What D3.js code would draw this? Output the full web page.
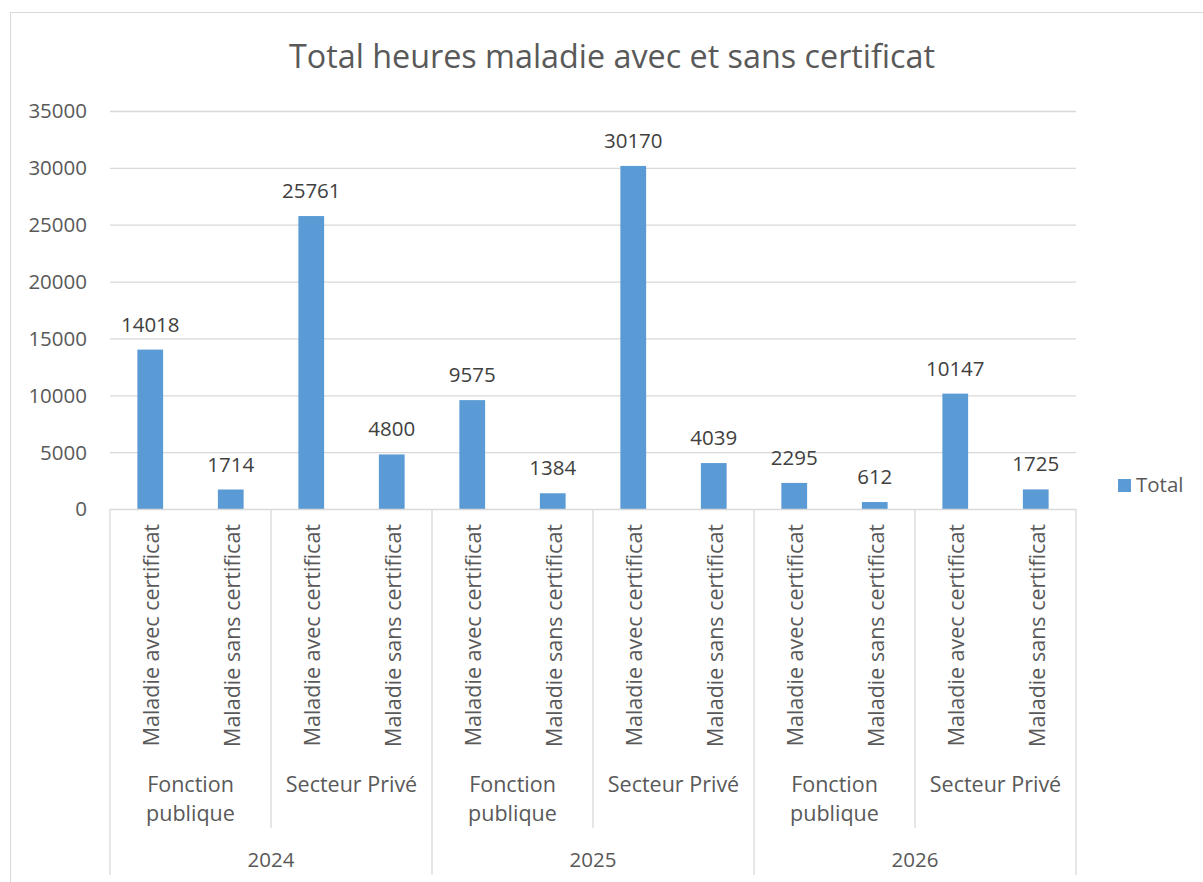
<!DOCTYPE html>
<html>
<head>
<meta charset="utf-8">
<script src="https://cdn.jsdelivr.net/npm/d3@7"></script>
<style>
  body { margin: 0; background: #fff; }
  svg text { font-family: "Open Sans", Lato, sans-serif; }
</style>
</head>
<body>
<div id="chart"></div>
<script>
const years = ["2024", "2025", "2026"];
const sectors = ["Fonction publique", "Secteur Privé"];
const types = ["Maladie avec certificat", "Maladie sans certificat"];
const values = [14018, 1714, 25761, 4800, 9575, 1384, 30170, 4039, 2295, 612, 10147, 1725];
const yTicks = [0, 5000, 10000, 15000, 20000, 25000, 30000, 35000];

const width = 1203, height = 882;
const plotLeft = 110, plotRight = 1076, plotTop = 111, zero = 509;
const fs = "20.5px";
const catFs = "21.5px";

const rows = [];
years.forEach(yr => sectors.forEach(sec => types.forEach(t => {
  rows.push({ key: yr + "|" + sec + "|" + t, year: yr, sector: sec, type: t, value: values[rows.length] });
})));

const svg = d3.select("#chart").append("svg")
  .attr("width", width)
  .attr("height", height);

svg.append("rect")
  .attr("x", 10.5).attr("y", 12.5)
  .attr("width", 1210).attr("height", 900)
  .attr("fill", "#fff").attr("stroke", "#D9D9D9");

const x = d3.scaleBand()
  .domain(rows.map(d => d.key))
  .range([plotLeft, plotRight])
  .paddingInner(0.68)
  .paddingOuter(0.34);

const y = d3.scaleLinear().domain([0, 35000]).range([zero, plotTop]);

// gridlines
svg.append("g")
  .selectAll("line")
  .data(yTicks.slice(1))
  .join("line")
  .attr("x1", plotLeft).attr("x2", plotRight)
  .attr("y1", d => y(d) + 0.5).attr("y2", d => y(d) + 0.5)
  .attr("stroke", "#D9D9D9").attr("stroke-width", 1.3);

// y labels
svg.append("g")
  .selectAll("text")
  .data(yTicks)
  .join("text")
  .attr("x", 87)
  .attr("y", d => y(d))
  .attr("dy", "0.36em")
  .attr("text-anchor", "end")
  .attr("fill", "#595959")
  .style("font-size", fs)
  .text(d => d);

// bars
svg.append("g")
  .selectAll("rect")
  .data(rows)
  .join("rect")
  .attr("x", d => x(d.key))
  .attr("width", x.bandwidth())
  .attr("y", d => y(d.value))
  .attr("height", d => zero - y(d.value))
  .attr("fill", "#5B9BD5");

// data labels
svg.append("g")
  .selectAll("text")
  .data(rows)
  .join("text")
  .attr("x", d => x(d.key) + x.bandwidth() / 2)
  .attr("y", d => y(d.value) - 18)
  .attr("text-anchor", "middle")
  .attr("fill", "#404040")
  .style("font-size", fs)
  .text(d => d.value);

// axis line
svg.append("line")
  .attr("x1", plotLeft).attr("x2", plotRight)
  .attr("y1", zero + 0.5).attr("y2", zero + 0.5)
  .attr("stroke", "#D9D9D9").attr("stroke-width", 1.3);

// rotated category labels
svg.append("g")
  .selectAll("text")
  .data(rows)
  .join("text")
  .attr("transform", d => `translate(${x(d.key) + x.bandwidth() / 2 + 1},524) rotate(-90)`)
  .attr("dy", "0.36em")
  .attr("text-anchor", "end")
  .attr("fill", "#595959")
  .style("font-size", catFs)
  .text(d => d.type);

// separators
const step = x.step();
const groupSize = types.length;
const bounds = d3.range(0, rows.length + 1, groupSize);
svg.append("g")
  .selectAll("line")
  .data(bounds)
  .join("line")
  .attr("x1", i => plotLeft + i * step).attr("x2", i => plotLeft + i * step)
  .attr("y1", zero)
  .attr("y2", i => i % (groupSize * sectors.length) === 0 ? 875 : 828)
  .attr("stroke", "#D9D9D9").attr("stroke-width", 1.3);

// sector labels
const secGroups = [];
years.forEach((yr, yi) => sectors.forEach((sec, si) => secGroups.push({ sec, i: (yi * sectors.length + si) * groupSize })));
const secText = svg.append("g")
  .selectAll("text")
  .data(secGroups)
  .join("text")
  .attr("x", d => plotLeft + (d.i + groupSize / 2) * step)
  .attr("y", 792)
  .attr("text-anchor", "middle")
  .attr("fill", "#595959")
  .style("font-size", catFs);
secText.each(function (d) {
  const lines = d.sec === "Fonction publique" ? ["Fonction", "publique"] : [d.sec];
  d3.select(this).selectAll("tspan")
    .data(lines)
    .join("tspan")
    .attr("x", plotLeft + (d.i + groupSize / 2) * step)
    .attr("dy", (l, k) => k === 0 ? 0 : 29)
    .text(l => l);
});

// year labels
svg.append("g")
  .selectAll("text")
  .data(years)
  .join("text")
  .attr("x", (d, i) => plotLeft + (i + 0.5) * step * groupSize * sectors.length)
  .attr("y", 867)
  .attr("text-anchor", "middle")
  .attr("fill", "#595959")
  .style("font-size", fs)
  .text(d => d);

// title
svg.append("text")
  .attr("x", 612)
  .attr("y", 68)
  .attr("text-anchor", "middle")
  .attr("fill", "#595959")
  .style("font-size", "32.3px")
  .text("Total heures maladie avec et sans certificat");

// legend
svg.append("rect")
  .attr("x", 1118).attr("y", 479)
  .attr("width", 13).attr("height", 13)
  .attr("fill", "#5B9BD5");
svg.append("text")
  .attr("x", 1136).attr("y", 492)
  .attr("fill", "#595959")
  .style("font-size", fs)
  .text("Total");
</script>
</body>
</html>
